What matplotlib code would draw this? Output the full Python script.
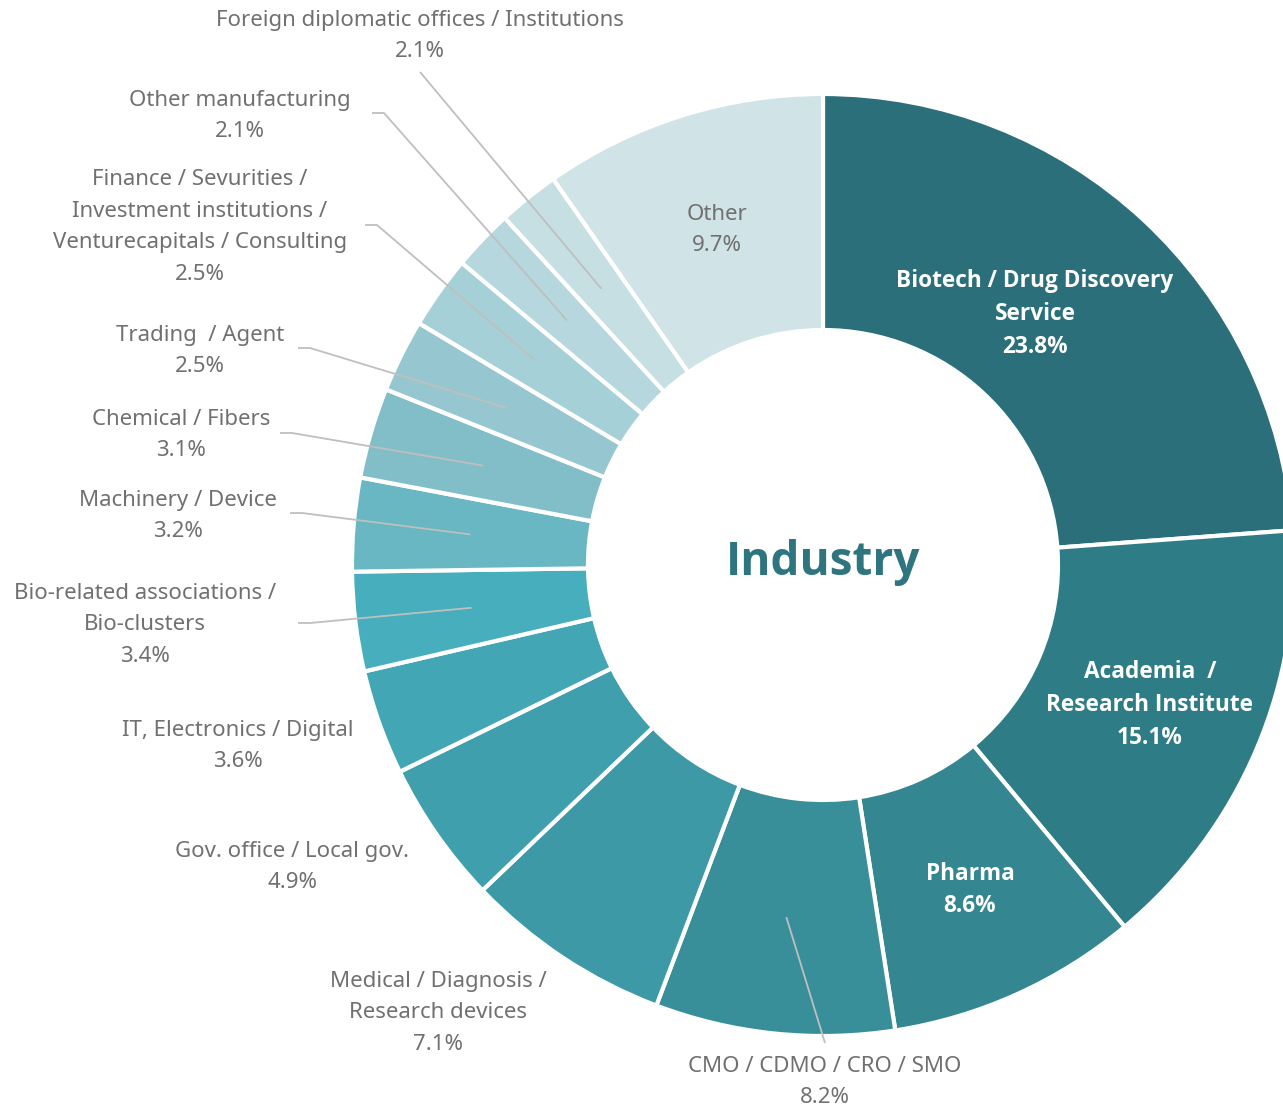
import matplotlib.pyplot as plt
import numpy as np

plt.rcParams['font.family'] = ['Noto Sans', 'DejaVu Sans']

# data
labels = ['Biotech / Drug Discovery\nService', 'Academia  /\nResearch Institute', 'Pharma',
          'CMO / CDMO / CRO / SMO', 'Medical / Diagnosis /\nResearch devices',
          'Gov. office / Local gov.', 'IT, Electronics / Digital',
          'Bio-related associations /\nBio-clusters', 'Machinery / Device',
          'Chemical / Fibers', 'Trading  / Agent',
          'Finance / Sevurities /\nInvestment institutions /\nVenturecapitals / Consulting',
          'Other manufacturing', 'Foreign diplomatic offices / Institutions', 'Other']
shares = [23.8, 15.1, 8.6, 8.2, 7.1, 4.9, 3.6, 3.4, 3.2, 3.1, 2.5, 2.5, 2.1, 2.1, 9.7]
colors = ['#2a6f7a', '#2e7c85', '#348690', '#388f9a', '#3d99a6', '#3f9fad', '#42a6b4',
          '#46aebc', '#69b7c2', '#82bec8', '#96c7d0', '#a6d0d7', '#b5d7dd', '#c5dfe3', '#d0e3e6']

W, H = 1283, 1111
cx, cy, R = 823, H - 565, 471

fig = plt.figure(figsize=(W / 100, H / 100), dpi=100)
ax = fig.add_axes([0, 0, 1, 1])

wedges, _ = ax.pie(shares, colors=colors, startangle=90, counterclock=False,
                   center=(cx, cy), radius=R, frame=True,
                   wedgeprops=dict(width=236, edgecolor='white', linewidth=3))
ax.set_xlim(0, W)
ax.set_ylim(0, H)
ax.set_aspect('equal')
ax.axis('off')

grey = '#707070'
fs = 16
ls = 1.66
bold_font = ['Open Sans', 'DejaVu Sans']

def mid(i, r):
    w = wedges[i]
    a = np.deg2rad((w.theta1 + w.theta2) / 2)
    return cx + r * np.cos(a), cy + r * np.sin(a)

# labels inside (white bold) : index -> label center in pixels
inside = {0: (1035, 314), 1: (1150, 705), 2: (970, 890)}
for i, (x, y) in inside.items():
    ax.text(x, H - y, labels[i] + '\n%.1f%%' % shares[i], ha='center', va='center',
            color='white', fontsize=16.3, fontweight='bold', linespacing=1.5,
            family=bold_font)

ax.text(717, H - 230, labels[14] + '\n%.1f%%' % shares[14], ha='center', va='center',
        color=grey, fontsize=fs, linespacing=ls)

# outside labels: index -> (text center x, center y, leader start x, y, elbow)
outside = {
    3: (825, 1082, 825, 1043, False),
    4: (438, 1013, None, None, False),
    5: (292, 867, None, None, False),
    6: (238, 746, None, None, False),
    7: (145, 625, 298, 623, True),
    8: (178, 516, 290, 513, True),
    9: (181, 435, 280, 433, True),
    10: (200, 351, 298, 348, True),
    11: (200, 227, 365, 225, True),
    12: (240, 116, 372, 113, True),
    13: (420, 36, 420, 72, False),
}
for i, (x, y, lx, ly, elbow) in outside.items():
    ax.text(x, H - y, labels[i] + '\n%.1f%%' % shares[i], ha='center', va='center',
            color=grey, fontsize=fs, linespacing=ls)
    if lx is None:
        continue
    ex, ey = mid(i, 354)
    xs, ys = [lx], [H - ly]
    if elbow:
        xs.append(lx + 12)
        ys.append(H - ly)
    xs.append(ex)
    ys.append(ey)
    ax.plot(xs, ys, color='#bfbfbf', lw=1.3, solid_capstyle='butt')

ax.text(cx, cy + 3, 'Industry', ha='center', va='center', color='#2e7580',
        fontsize=33, fontweight='bold', family=bold_font)

fig.savefig('out.png', dpi=100)
